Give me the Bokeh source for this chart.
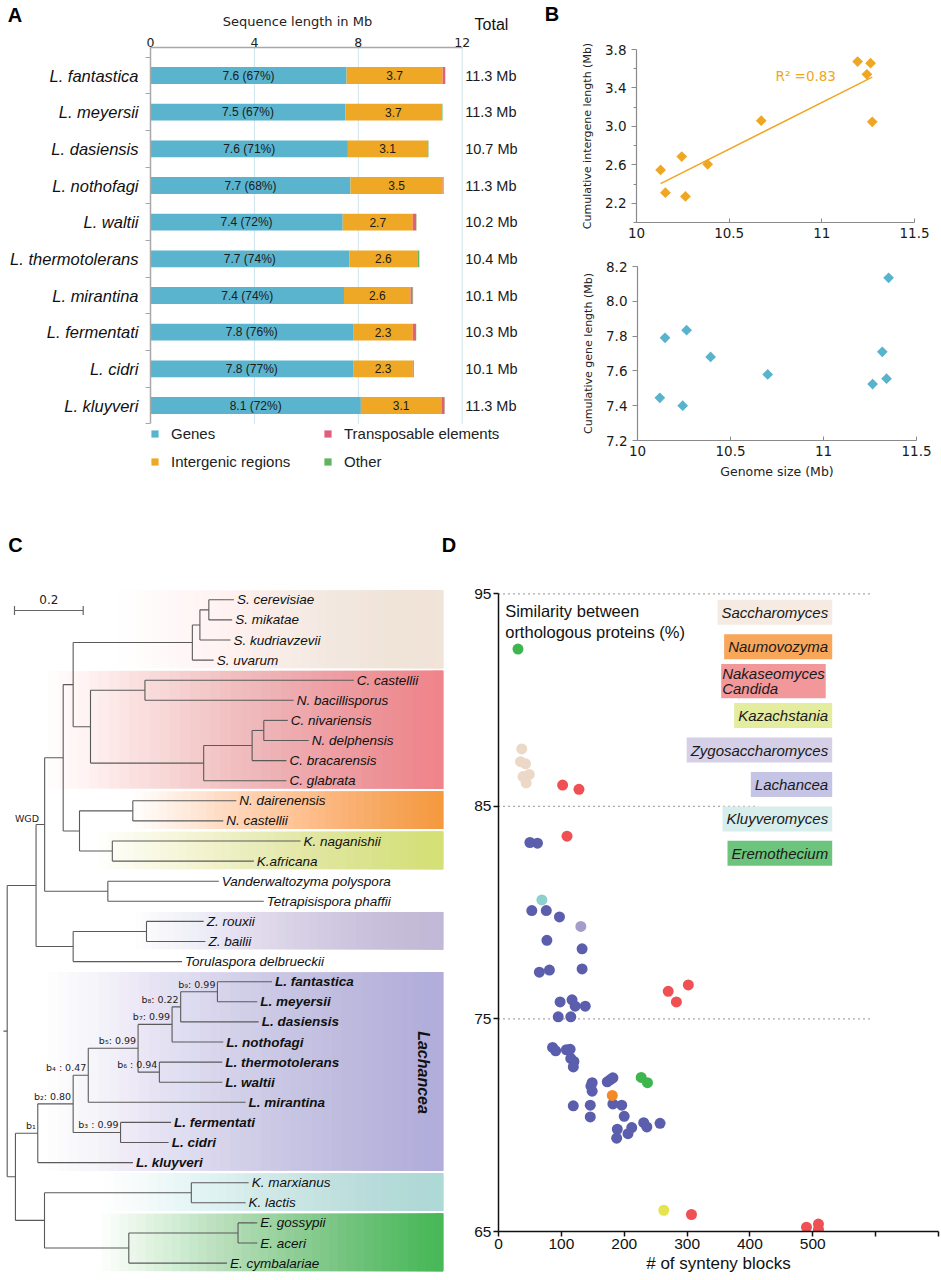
import numpy as np
from bokeh.plotting import figure
from bokeh.models import Range1d, LinearAxis, FixedTicker, Label, Legend, LegendItem, PrintfTickFormatter
from bokeh.layouts import row, column
from bokeh.embed import file_html
from bokeh.resources import INLINE
from bokeh.core.properties import value

# ------------------------------------------------------------------ data A
species = ["L. fantastica", "L. meyersii", "L. dasiensis", "L. nothofagi", "L. waltii",
           "L. thermotolerans", "L. mirantina", "L. fermentati", "L. cidri", "L. kluyveri"]
genes = [7.55, 7.5, 7.6, 7.7, 7.4, 7.65, 7.45, 7.8, 7.8, 8.1]
gene_labels = ["7.6 (67%)", "7.5 (67%)", "7.6 (71%)", "7.7 (68%)", "7.4 (72%)",
               "7.7 (74%)", "7.4 (74%)", "7.8 (76%)", "7.8 (77%)", "8.1 (72%)"]
intergenic = [3.7, 3.7, 3.05, 3.55, 2.7, 2.63, 2.56, 2.3, 2.3, 3.1]
intergenic_labels = ["3.7", "3.7", "3.1", "3.5", "2.7", "2.6", "2.6", "2.3", "2.3", "3.1"]
transposons = [0.09, 0.02, 0.02, 0.02, 0.13, 0.02, 0.08, 0.12, 0.01, 0.12]
other = [0.01, 0.02, 0.03, 0.02, 0.01, 0.05, 0.02, 0.01, 0.03, 0.01]
totals = ["11.3 Mb", "11.3 Mb", "10.7 Mb", "11.3 Mb", "10.2 Mb",
          "10.4 Mb", "10.1 Mb", "10.3 Mb", "10.1 Mb", "11.3 Mb"]
a_ticks = [0, 4, 8, 12]

# ------------------------------------------------------------------ data B
genome_size_top = [10.13, 10.156, 10.244, 10.264, 10.384, 10.673, 11.193, 11.263, 11.243, 11.272]
intergene_len = [2.547, 2.31, 2.686, 2.271, 2.606, 3.059, 3.675, 3.657, 3.542, 3.048]
genome_size_bot = [10.12, 10.148, 10.243, 10.264, 10.393, 10.70, 11.264, 11.339, 11.316, 11.35]
gene_len = [7.445, 7.79, 7.40, 7.834, 7.68, 7.58, 7.524, 7.555, 7.71, 8.135]
b_xticks = [10, 10.5, 11, 11.5]
b1_yticks = [2.2, 2.6, 3.0, 3.4, 3.8]
b1_yminor = [2.0, 2.4, 2.8, 3.2, 3.6]
b2_yticks = [7.2, 7.4, 7.6, 7.8, 8.0, 8.2]

# ------------------------------------------------------------------ data C (tree)
leaf_names = ["S. cerevisiae", "S. mikatae", "S. kudriavzevii", "S. uvarum",
              "C. castellii", "N. bacillisporus", "C. nivariensis", "N. delphensis",
              "C. bracarensis", "C. glabrata", "N. dairenensis", "N. castellii",
              "K. naganishii", "K.africana", "Vanderwaltozyma polyspora", "Tetrapisispora phaffii",
              "Z. rouxii", "Z. bailii", "Torulaspora delbrueckii",
              "L. fantastica", "L. meyersii", "L. dasiensis", "L. nothofagi", "L. thermotolerans",
              "L. waltii", "L. mirantina", "L. fermentati", "L. cidri", "L. kluyveri",
              "K. marxianus", "K. lactis", "E. gossypii", "E. aceri", "E. cymbalariae"]
leaf_parent = ["sc_sm", "sc_sm", "sk", "sac", "cb", "cb", "nd", "nd", "br", "gl",
               "naum", "naum", "kaz", "kaz", "vt", "vt", "zyg", "zyg", "zt",
               "fm", "fm", "fmd", "fmdn", "tw", "tw", "n4", "fc", "fc", "n1",
               "kl", "kl", "ea", "ea", "er"]
leaf_depth = [0.660, 0.655, 0.650, 0.601, 1.009, 0.834, 0.817, 0.878, 0.813, 0.813,
              0.667, 0.629, 0.854, 0.718, 0.616, 0.747, 0.572, 0.577, 0.509,
              0.771, 0.728, 0.732, 0.629, 0.626, 0.626, 0.694, 0.477, 0.470, 0.366,
              0.703, 0.694, 0.728, 0.728, 0.640]
leaf_bold = [n.startswith("L. ") for n in leaf_names]
node_names = ["root", "wgd", "n0", "pw", "zt", "zyg", "snk", "vt", "sn", "nk", "sac", "sk",
              "sc_sm", "nak", "cb", "gl", "br", "nd", "naum", "kaz", "n1", "ke", "n2", "n4",
              "n5", "fmdn", "fmd", "fm", "tw", "fc", "kl", "er", "ea"]
node_parent = [None, "root", "root", "wgd", "wgd", "zt", "pw", "pw", "snk", "snk", "sn", "sac",
               "sk", "sn", "nak", "nak", "gl", "br", "nk", "nk", "n0", "n0", "n1", "n2",
               "n4", "n5", "fmdn", "fmd", "n5", "n2", "ke", "ke", "er"]
node_depth = [0.0, 0.084, 0.024, 0.109, 0.192, 0.4055, 0.163, 0.293, 0.192, 0.2105, 0.539, 0.561,
              0.587, 0.2425, 0.401, 0.572, 0.713, 0.747, 0.3657, 0.306, 0.089, 0.1086, 0.192, 0.236,
              0.381, 0.480, 0.505, 0.612, 0.443, 0.330, 0.536, 0.354, 0.672]
support_nodes = ["n1", "n2", "fc", "n4", "n5", "tw", "fmdn", "fmd", "fm"]
support_labels = ["b\u2081", "b\u2082: 0.80", "b\u2083 : 0.99", "b\u2084 : 0.47", "b\u2085: 0.99",
                  "b\u2086 : 0.94", "b\u2087: 0.99", "b\u2088: 0.22", "b\u2089: 0.99"]
clade_names = ["Saccharomyces", "Nakaseomyces", "Naumovozyma", "Kazachstania",
               "Zygosaccharomyces", "Lachancea", "Kluyveromyces", "Eremothecium"]
clade_first = [0, 4, 10, 12, 16, 19, 29, 31]
clade_last = [3, 9, 11, 13, 17, 28, 30, 33]
clade_start = [0.3, 0.09, 0.35, 0.24, 0.35, 0.09, 0.26, 0.25]
clade_colors = ["#F1E4D8", "#EF858B", "#F69A40", "#D5E176", "#C2B8D8", "#B2ADDB", "#ADD9D7", "#48B858"]

# ------------------------------------------------------------------ data D
synteny_blocks = [50, 62, 53, 76, 97, 77, 133, 65, 81, 133, 98, 117, 122, 138, 95, 115, 86, 91,
                  108, 114, 115, 120, 119, 149, 147, 149, 173, 182, 178, 182, 196, 119, 146, 146,
                  200, 231, 236, 257, 212, 189, 206, 188,
                  31, 227, 237,
                  37, 35, 43, 49, 39, 44,
                  102, 128, 109, 270, 302, 283, 307, 490, 509, 509,
                  69, 131, 181, 263]
similarity = [83.3, 83.27, 80.1, 80.1, 79.8, 78.7, 78.3, 77.2, 77.3, 77.35, 75.8, 75.9, 75.6, 75.6,
              75.1, 75.1, 73.66, 73.5, 73.55, 73.57, 73.14, 73.0, 72.74, 72.0, 71.84, 71.6, 72.04,
              72.23, 72.15, 71.0, 70.94, 70.91, 70.94, 70.39, 70.42, 70.12, 69.92, 70.09, 69.89,
              69.81, 69.6, 69.39,
              92.4, 72.25, 72.0,
              87.7, 87.1, 87.0, 86.5, 86.4, 86.1,
              86.0, 85.8, 83.6, 76.3, 76.6, 75.8, 65.8, 65.2, 65.35, 65.1,
              80.6, 79.35, 71.4, 66.0]
genus = (["Lachancea"] * 42 + ["Eremothecium"] * 3 + ["Saccharomyces"] * 6 +
         ["Nakaseomyces"] * 10 + ["Kluyveromyces", "Zygosaccharomyces", "Naumovozyma", "Kazachstania"])
d_xticks = [0, 100, 200, 300, 400, 500, 600, 700]
d_yticks = [65, 75, 85, 95]
ref_line_y = [95, 85, 75]
ref_line_end = [595, 414, 595]
legend_names = ["Saccharomyces", "Naumovozyma", "Nakaseomyces\nCandida", "Kazachstania",
                "Zygosaccharomyces", "Lachancea", "Kluyveromyces", "Eremothecium"]

# ------------------------------------------------------------------ styles
SANS = "Liberation Sans"
DJ = "DejaVu Sans"
C_GENE, C_IG, C_TE, C_OT = "#5BB4CE", "#EFA825", "#E0607C", "#5DB55D"
C_ORANGE, C_BLUE = "#EEA623", "#58B3CD"
point_colors = {"Lachancea": "#5B5EAD", "Nakaseomyces": "#EE5054", "Saccharomyces": "#EBD8C7",
                "Eremothecium": "#3FB54E", "Kluyveromyces": "#8ECFCF", "Zygosaccharomyces": "#A59CC9",
                "Naumovozyma": "#F28A2A", "Kazachstania": "#E5E44E"}
legend_fill = ["#F5EBE2", "#F7A65A", "#F2979A", "#E4EC9F", "#D5D0E7", "#C6C4E5", "#D8EEEC", "#6DC47D"]


def fig(**kw):
    p = figure(output_backend="svg", toolbar_location=None, frame_align=False, **kw)
    p.outline_line_color = None
    p.background_fill_color = "white"
    p.border_fill_color = "white"
    p.grid.visible = False
    return p


# ================================================================== header (A/B titles)
HEAD_H = 32
pH = fig(width=560, height=HEAD_H, x_range=Range1d(0, 560), y_range=Range1d(HEAD_H, 0),
         x_axis_location=None, y_axis_location=None,
         min_border_left=0, min_border_right=0, min_border_top=0, min_border_bottom=0)
pH.text(x=[14.5, 551.5], y=[14.5, 13.5], text=["A", "B"], text_align="center", text_baseline="middle",
        text_font=value(SANS), text_font_style="bold", text_font_size="20px", text_color="#000000")
pH.text(x=[297], y=[21], text=["Sequence length in Mb"], text_align="center", text_baseline="middle",
        text_font=value(DJ), text_font_size="13px", text_color="#222222")
pH.text(x=[491], y=[23.5], text=["Total"], text_align="center", text_baseline="middle",
        text_font=value(SANS), text_font_size="16px", text_color="#111111")

# ================================================================== Panel A
n = len(species)
PXA = 311.7 / 12.0
PYA = 36.67
A_TOP = -28 / PYA
A_BOT = 9.5
A_FRAME_H = 500 - 47
pA = fig(width=560, height=500 - HEAD_H, x_range=Range1d(0, 410 / PXA),
         y_range=Range1d(A_TOP + A_FRAME_H / PYA, A_TOP),
         x_axis_location=None, y_axis_location=None,
         min_border_left=150, min_border_right=0, min_border_top=47 - HEAD_H, min_border_bottom=0)
yA = np.arange(n)
e1 = np.array(genes)
e2 = e1 + np.array(intergenic)
e3 = e2 + np.array(transposons)
e4 = e3 + np.array(other)
gt = a_ticks[1:]
pA.segment(x0=gt, y0=[A_TOP] * len(gt), x1=gt, y1=[A_BOT] * len(gt), line_color="#CDE4EE", line_width=1)
rG = pA.hbar(y=yA, left=0, right=e1, height=0.46, fill_color=C_GENE, line_color=None)
rI = pA.hbar(y=yA, left=e1, right=e2, height=0.46, fill_color=C_IG, line_color=None)
rT = pA.hbar(y=yA, left=e2, right=e3, height=0.46, fill_color=C_TE, line_color=None)
rO = pA.hbar(y=yA, left=e3, right=e4, height=0.46, fill_color=C_OT, line_color=None)
pA.text(x=e1 / 2, y=yA, text=gene_labels, text_align="center", text_baseline="middle",
        text_font=value(SANS), text_font_size="12px", text_color="#1a1a1a")
pA.text(x=(e1 + e2) / 2, y=yA, text=intergenic_labels, text_align="center", text_baseline="middle",
        text_font=value(SANS), text_font_size="12px", text_color="#1a1a1a")
pA.text(x=np.full(n, float(a_ticks[-1])), y=yA, text=totals, x_offset=3, text_align="left",
        text_baseline="middle", text_font=value(SANS), text_font_size="14.5px", text_color="#1a1a1a")

ax_top = LinearAxis(ticker=FixedTicker(ticks=a_ticks), bounds=(0, 12),
                    axis_line_color="#A8A8A8", axis_line_width=1.5,
                    major_tick_out=0, major_tick_in=0, minor_tick_out=0, minor_tick_in=0,
                    major_label_text_font=DJ, major_label_text_font_size="12.5px",
                    major_label_standoff=1, major_label_text_color="#222222")
pA.add_layout(ax_top, "above")
ax_left = LinearAxis(ticker=FixedTicker(ticks=list(range(n)), minor_ticks=[i - 0.5 for i in range(n + 1)]),
                     bounds=(A_TOP, A_BOT),
                     major_label_overrides={i: s for i, s in enumerate(species)},
                     axis_line_color="#A8A8A8", axis_line_width=1.5,
                     major_tick_out=0, major_tick_in=0, minor_tick_out=5, minor_tick_in=0,
                     minor_tick_line_color="#A8A8A8",
                     major_label_text_font=SANS, major_label_text_font_style="italic",
                     major_label_text_font_size="16.5px", major_label_standoff=7,
                     major_label_text_color="#111111")
pA.add_layout(ax_left, "left")

legA = Legend(items=[LegendItem(label="Genes", renderers=[rG]),
                     LegendItem(label="Intergenic regions", renderers=[rI]),
                     LegendItem(label="Transposable elements", renderers=[rT]),
                     LegendItem(label="Other", renderers=[rO])],
              ncols=2, orientation="vertical", location=(0, 29), margin=0, padding=0,
              border_line_color=None, background_fill_alpha=0,
              glyph_width=9, glyph_height=9, label_standoff=12, label_height=20, label_width=144,
              label_text_font=SANS, label_text_font_size="15px", label_text_color="#222222",
              spacing=8)
pA.add_layout(legA)


# ================================================================== Panel B
def style_b(p, yticks, yminor, ylabel, xlabel=None):
    xa, ya = p.xaxis[0], p.yaxis[0]
    xa.ticker = FixedTicker(ticks=b_xticks)
    xa.major_label_overrides = {10: "10", 11: "11"}
    ya.ticker = FixedTicker(ticks=yticks, minor_ticks=yminor)
    ya.formatter = PrintfTickFormatter(format="%.1f")
    for a in (xa, ya):
        a.axis_line_color = "#8A8A8A"
        a.axis_line_width = 1.2
        a.major_tick_line_color = "#8A8A8A"
        a.minor_tick_line_color = "#8A8A8A"
        a.major_label_text_font = DJ
        a.major_label_text_font_size = "13.5px"
        a.major_label_text_color = "#1a1a1a"
        a.axis_label_text_font = DJ
        a.axis_label_text_font_style = "normal"
        a.axis_label_text_color = "#222222"
    xa.major_tick_in, xa.major_tick_out = 4, 0
    xa.minor_tick_in, xa.minor_tick_out = 0, 0
    xa.major_label_standoff = 5
    ya.major_tick_in, ya.major_tick_out = 0, 5
    ya.minor_tick_in, ya.minor_tick_out = 0, 3
    ya.major_label_standoff = 5
    ya.axis_label = ylabel
    ya.axis_label_text_font_size = "11px"
    ya.axis_label_standoff = 8
    if xlabel:
        xa.axis_label = xlabel
        xa.axis_label_text_font_size = "12.5px"
        xa.axis_label_standoff = 5


pB1 = fig(width=381, height=250, x_range=Range1d(10, 11.5), y_range=Range1d(2.0, 3.8),
          min_border_left=76, min_border_right=27, min_border_top=49, min_border_bottom=28)
style_b(pB1, b1_yticks, b1_yminor, "Cumulative intergene length (Mb)")
xs1 = np.array(genome_size_top)
ys1 = np.array(intergene_len)
coef = np.polyfit(xs1, ys1, 1)
fx = np.array([xs1.min(), xs1.max()])
pB1.line(fx, np.polyval(coef, fx), line_color=C_ORANGE, line_width=1.4)
pB1.scatter(xs1, ys1, marker="square", angle=np.pi / 4, size=7.6, fill_color=C_ORANGE, line_color=None)
pB1.add_layout(Label(x=10.75, y=3.52, text="R\u00b2 =0.83", text_align="left", text_baseline="middle",
                     text_font=DJ, text_font_size="13.5px", text_color=C_ORANGE))

pB2 = fig(width=381, height=250, x_range=Range1d(10, 11.5), y_range=Range1d(7.2, 8.2),
          min_border_left=77, min_border_right=25, min_border_top=16, min_border_bottom=60)
style_b(pB2, b2_yticks, [], "Cumulative gene length (Mb)", "Genome size (Mb)")
pB2.scatter(genome_size_bot, gene_len, marker="square", angle=np.pi / 4, size=7.6,
            fill_color=C_BLUE, line_color=None)

# ================================================================== Panel C
PXC, X0C = 343.5, 6.7
PYC, Y0C = 20.1, 599.3
pC = fig(width=460, height=778,
         x_range=Range1d((0 - X0C) / PXC, (460 - X0C) / PXC),
         y_range=Range1d((1278 - Y0C) / PYC, (500 - Y0C) / PYC),
         x_axis_location=None, y_axis_location=None,
         min_border_left=0, min_border_right=0, min_border_top=0, min_border_bottom=0)

# clade background bands: stacked layers give a linear white -> colour gradient without seams
band_right = (442.7 - X0C) / PXC
NSTRIP = 40
layer_alpha = [1.0 / (NSTRIP - k) for k in range(NSTRIP)]
for first, last, start, col in zip(clade_first, clade_last, clade_start, clade_colors):
    edges = np.linspace(start, band_right, NSTRIP + 1)[1:]
    pC.quad(left=edges[:-1], right=[band_right] * (NSTRIP - 1), top=first - 0.47, bottom=last + 0.4,
            fill_color=col, fill_alpha=layer_alpha[1:], line_color=None)

parent = {}
depth = {}
for nm, par, d in zip(node_names, node_parent, node_depth):
    parent[nm] = par
    depth[nm] = d
for nm, par, d in zip(leaf_names, leaf_parent, leaf_depth):
    parent[nm] = par
    depth[nm] = d
children = {nm: [] for nm in node_names}
for nm in node_names + leaf_names:
    if parent[nm] is not None:
        children[parent[nm]].append(nm)
ypos = {nm: float(i) for i, nm in enumerate(leaf_names)}


def yof(nm):
    if nm not in ypos:
        ys = [yof(c) for c in children[nm]]
        ypos[nm] = (min(ys) + max(ys)) / 2.0
    return ypos[nm]


yof("root")
hx0, hx1, hy = [], [], []
for nm in node_names + leaf_names:
    if parent[nm] is not None:
        hx0.append(depth[parent[nm]])
        hx1.append(depth[nm])
        hy.append(ypos[nm])
vx, vy0, vy1 = [], [], []
for nm in node_names:
    ys = [ypos[c] for c in children[nm]]
    vx.append(depth[nm])
    vy0.append(min(ys))
    vy1.append(max(ys))
TREE_COL = "#5A5A5A"
pC.segment(x0=hx0, y0=hy, x1=hx1, y1=hy, line_color=TREE_COL, line_width=1.1)
pC.segment(x0=vx, y0=vy0, x1=vx, y1=vy1, line_color=TREE_COL, line_width=1.1)
pC.segment(x0=[-0.011], y0=[ypos["root"]], x1=[0.0], y1=[ypos["root"]], line_color=TREE_COL, line_width=1.1)

norm_idx = [i for i, b in enumerate(leaf_bold) if not b]
bold_idx = [i for i, b in enumerate(leaf_bold) if b]
pC.text(x=[leaf_depth[i] for i in norm_idx], y=[float(i) for i in norm_idx],
        text=[leaf_names[i] for i in norm_idx], x_offset=3, text_baseline="middle",
        text_font=value(SANS), text_font_style="italic", text_font_size="13.5px", text_color="#111111")
pC.text(x=[leaf_depth[i] for i in bold_idx], y=[float(i) for i in bold_idx],
        text=[leaf_names[i] for i in bold_idx], x_offset=3, text_baseline="middle",
        text_font=value(SANS), text_font_style="bold italic", text_font_size="13.5px", text_color="#111111")
pC.text(x=[depth[nm] for nm in support_nodes], y=[ypos[nm] for nm in support_nodes],
        text=support_labels, x_offset=-2, y_offset=-2, text_align="right", text_baseline="bottom",
        text_font=value(DJ), text_font_size="9.5px", text_color="#222222")
pC.text(x=[(422.7 - X0C) / PXC], y=[(1072 - Y0C) / PYC], text=["Lachancea"], angle=-np.pi / 2,
        text_align="center", text_baseline="middle", text_font=value(SANS),
        text_font_style="bold italic", text_font_size="16px", text_color="#111111")
pC.text(x=[(26.5 - X0C) / PXC], y=[(818.3 - Y0C) / PYC], text=["WGD"], text_align="center",
        text_baseline="middle", text_font=value(DJ), text_font_size="9.5px", text_color="#222222")
sb0 = (14 - X0C) / PXC
sby = (610 - Y0C) / PYC
pC.segment(x0=[sb0, sb0, sb0 + 0.2], y0=[sby, sby - 0.22, sby - 0.22],
           x1=[sb0 + 0.2, sb0, sb0 + 0.2], y1=[sby, sby + 0.22, sby + 0.22],
           line_color="#666666", line_width=1.2)
pC.text(x=[sb0 + 0.1], y=[sby], y_offset=-7, text=["0.2"], text_align="center", text_baseline="bottom",
        text_font=value(DJ), text_font_size="12px", text_color="#222222")
pC.text(x=[(15 - X0C) / PXC, (448.5 - X0C) / PXC], y=[(544 - Y0C) / PYC] * 2, text=["C", "D"],
        text_align="center", text_baseline="middle", text_font=value(SANS), text_font_style="bold",
        text_font_size="20px", text_color="#000000")

# ================================================================== Panel D
PXD = 440 / 700.0
PYD = (1231 - 593.3) / 30.0
pD = fig(width=481, height=778, x_range=Range1d(0, 700), y_range=Range1d(65, 65 + 731 / PYD),
         min_border_left=38, min_border_right=3, min_border_top=0, min_border_bottom=47)
xd, yd = pD.xaxis[0], pD.yaxis[0]
xd.ticker = FixedTicker(ticks=d_xticks)
xd.major_label_overrides = {600: "", 700: ""}
yd.ticker = FixedTicker(ticks=d_yticks)
yd.bounds = (65, 95)
for a in (xd, yd):
    a.axis_line_color = "#111111"
    a.axis_line_width = 1.5
    a.major_tick_line_color = "#111111"
    a.major_tick_line_width = 1.5
    a.major_tick_in, a.major_tick_out = 0, 5
    a.minor_tick_in, a.minor_tick_out = 0, 0
    a.major_label_text_font = SANS
    a.major_label_text_font_size = "15.5px"
    a.major_label_text_color = "#111111"
    a.major_label_standoff = 2
xd.axis_label = "# of synteny blocks"
xd.axis_label_text_font = SANS
xd.axis_label_text_font_style = "normal"
xd.axis_label_text_font_size = "17px"
xd.axis_label_text_color = "#111111"
xd.axis_label_standoff = 2

pD.segment(x0=[0] * 3, y0=ref_line_y, x1=ref_line_end, y1=ref_line_y,
           line_color="#555555", line_width=1.2, line_dash="1 4")
pD.scatter(synteny_blocks, similarity, marker="circle", size=11,
           fill_color=[point_colors[g] for g in genus], line_color=None)

pD.add_layout(Label(x=(505 - 498.3) / PXD, y=95 - (610 - 593.3) / PYD, text="Similarity between",
                    text_align="left", text_baseline="middle", text_font=SANS,
                    text_font_size="16.5px", text_color="#111111"))
pD.add_layout(Label(x=(505 - 498.3) / PXD, y=95 - (631.7 - 593.3) / PYD, text="orthologous proteins (%)",
                    text_align="left", text_baseline="middle", text_font=SANS,
                    text_font_size="16.5px", text_color="#111111"))
for i, (nm, fc) in enumerate(zip(legend_names, legend_fill)):
    ly = 95 - (611.8 - 593.3) / PYD - i * 1.62
    multi = "\n" in nm
    pD.add_layout(Label(x=((721 if multi else 832) - 498.3) / PXD, y=ly, text=nm,
                        text_align="left" if multi else "right", text_baseline="middle",
                        text_font=SANS, text_font_style="italic", text_font_size="15px",
                        text_line_height=0.9, text_color="#1a1a1a",
                        background_fill_color=fc, background_fill_alpha=1.0, padding=1 if multi else 4))

layout = column(row(column(pH, pA), column(pB1, pB2)), row(pC, pD))
open("out.html", "w").write(file_html(layout, INLINE))
